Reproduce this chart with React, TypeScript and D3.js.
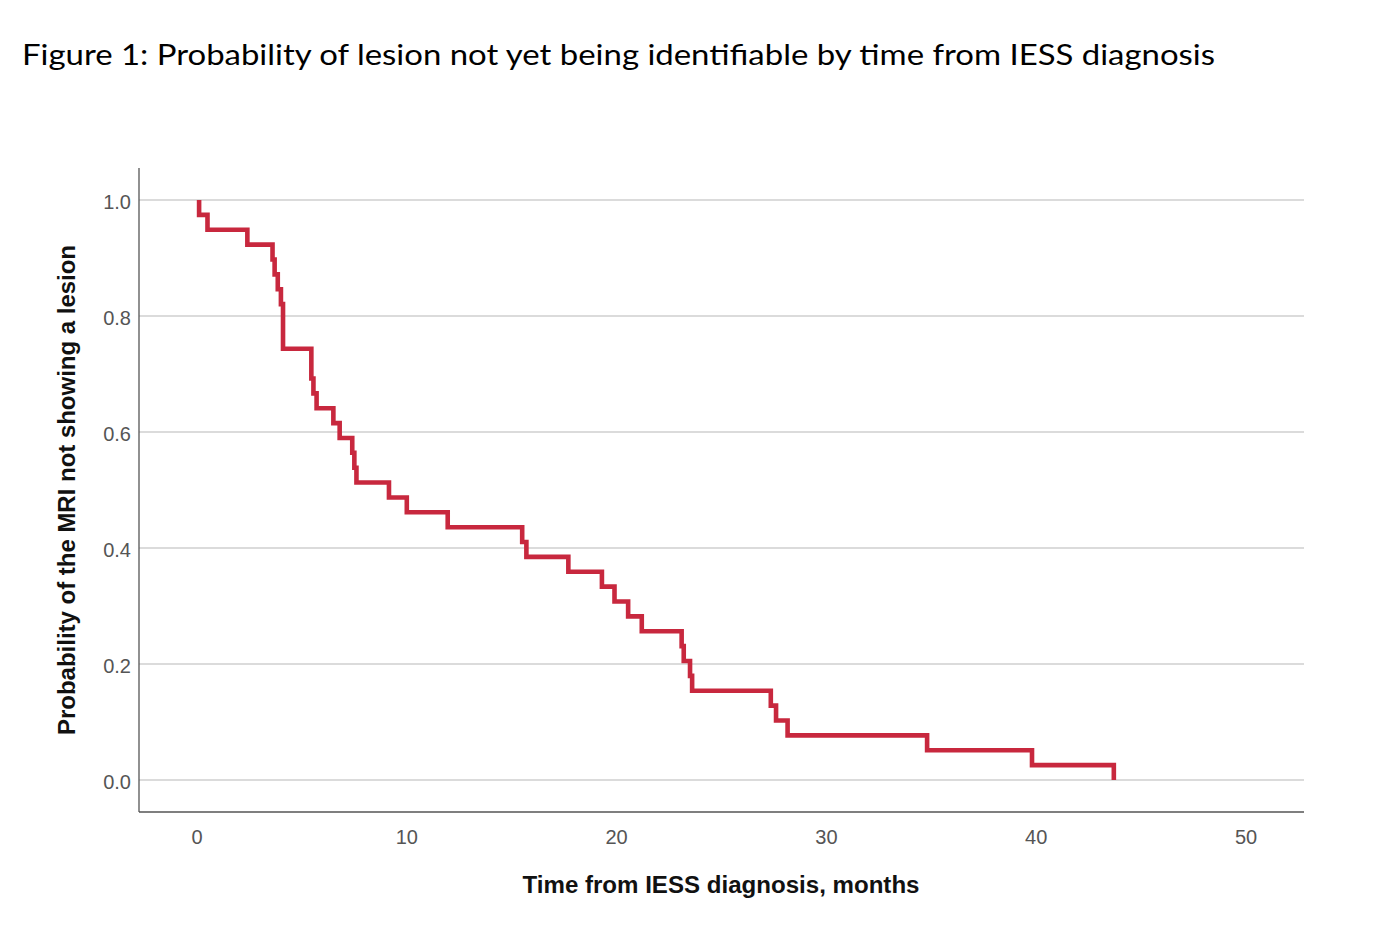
import React, { useRef, useEffect } from "react";
import * as d3 from "d3";

// event times (months) and number still without lesion after each event
const eventTimes = [
  0.1, 0.5, 2.4, 3.6, 3.7, 3.85, 4.0, 4.1, 5.45, 5.55, 5.7, 6.5, 6.8, 7.4, 7.5,
  7.6, 9.15, 10.0, 11.95, 15.5, 15.7, 17.7, 19.3, 19.9, 20.55, 21.2, 23.1, 23.2,
  23.5, 23.6, 27.35, 27.6, 28.15, 34.8, 39.8, 43.7,
];
const remaining = [
  38, 37, 36, 35, 34, 33, 32, 29, 27, 26, 25, 24, 23, 22, 21, 20, 19, 18, 17, 16,
  15, 14, 13, 12, 11, 10, 9, 8, 7, 6, 5, 4, 3, 2, 1, 0,
];
const total = 39;

const xTicks = [0, 10, 20, 30, 40, 50];
const yTicks = [0, 0.2, 0.4, 0.6, 0.8, 1.0];

const title = "Figure 1: Probability of lesion not yet being identifiable by time from IESS diagnosis";
const xTitle = "Time from IESS diagnosis, months";
const yTitle = "Probability of the MRI not showing a lesion";

const App: React.FC = () => {
  const svgRef = useRef<SVGSVGElement | null>(null);

  useEffect(() => {
    const svg = d3.select(svgRef.current);
    svg.selectAll("*").remove();

    const left = 139;
    const right = 1304;
    const top = 168;
    const bottom = 812;

    const x = d3.scaleLinear().domain([0, 50]).range([197, 1246]);
    const y = d3.scaleLinear().domain([0, 1]).range([780, 200]);

    svg.append("text")
      .attr("x", 22)
      .attr("y", 65)
      .attr("font-family", "Lato, 'Noto Sans', sans-serif")
      .attr("font-size", 29)
      .attr("fill", "#000")
      .attr("textLength", 1193)
      .attr("lengthAdjust", "spacingAndGlyphs")
      .text(title);

    // gridlines
    svg.append("g")
      .selectAll("line")
      .data(yTicks)
      .join("line")
      .attr("x1", left)
      .attr("x2", right)
      .attr("y1", (d) => y(d))
      .attr("y2", (d) => y(d))
      .attr("stroke", "#cfcfcf")
      .attr("stroke-width", 1.6);

    // axis lines
    svg.append("line")
      .attr("x1", left).attr("x2", left)
      .attr("y1", top).attr("y2", bottom)
      .attr("stroke", "#555").attr("stroke-width", 1.3);
    svg.append("line")
      .attr("x1", left).attr("x2", right)
      .attr("y1", bottom).attr("y2", bottom)
      .attr("stroke", "#555").attr("stroke-width", 1.3);

    const tickFont = "'Liberation Sans', Arial, sans-serif";
    const narrowFont = "'Liberation Sans Narrow', 'Liberation Sans', Arial, sans-serif";

    svg.append("g")
      .selectAll("text")
      .data(yTicks)
      .join("text")
      .attr("x", 131)
      .attr("y", (d) => y(d) + 9)
      .attr("text-anchor", "end")
      .attr("font-family", tickFont)
      .attr("font-size", 20)
      .attr("fill", "#555")
      .text((d) => d3.format(".1f")(d));

    svg.append("g")
      .selectAll("text")
      .data(xTicks)
      .join("text")
      .attr("x", (d) => x(d))
      .attr("y", 844)
      .attr("text-anchor", "middle")
      .attr("font-family", tickFont)
      .attr("font-size", 20)
      .attr("fill", "#555")
      .text((d) => String(d));

    svg.append("text")
      .attr("x", 721)
      .attr("y", 893)
      .attr("text-anchor", "middle")
      .attr("font-family", narrowFont)
      .attr("font-weight", "bold")
      .attr("font-size", 23)
      .attr("fill", "#111")
      .attr("textLength", 397)
      .attr("lengthAdjust", "spacingAndGlyphs")
      .text(xTitle);

    svg.append("text")
      .attr("transform", `translate(75, 490) rotate(-90)`)
      .attr("text-anchor", "middle")
      .attr("font-family", narrowFont)
      .attr("font-weight", "bold")
      .attr("font-size", 23)
      .attr("fill", "#111")
      .attr("textLength", 490)
      .attr("lengthAdjust", "spacingAndGlyphs")
      .text(yTitle);

    // Kaplan-Meier step curve, begins at the first event
    const pts: [number, number][] = [[eventTimes[0], 1]];
    eventTimes.forEach((t, i) => pts.push([t, remaining[i] / total]));
    const line = d3.line<[number, number]>()
      .x((d) => x(d[0]))
      .y((d) => y(d[1]))
      .curve(d3.curveStepAfter);

    svg.append("path")
      .datum(pts)
      .attr("d", line)
      .attr("fill", "none")
      .attr("stroke", "#c8283e")
      .attr("stroke-width", 4.6)
      .attr("stroke-linejoin", "miter")
      .attr("stroke-linecap", "butt");
  }, []);

  return (
    <svg
      ref={svgRef}
      width={1388}
      height={940}
      style={{ position: "absolute", left: 0, top: 0, background: "#fff" }}
    />
  );
};

export default App;
